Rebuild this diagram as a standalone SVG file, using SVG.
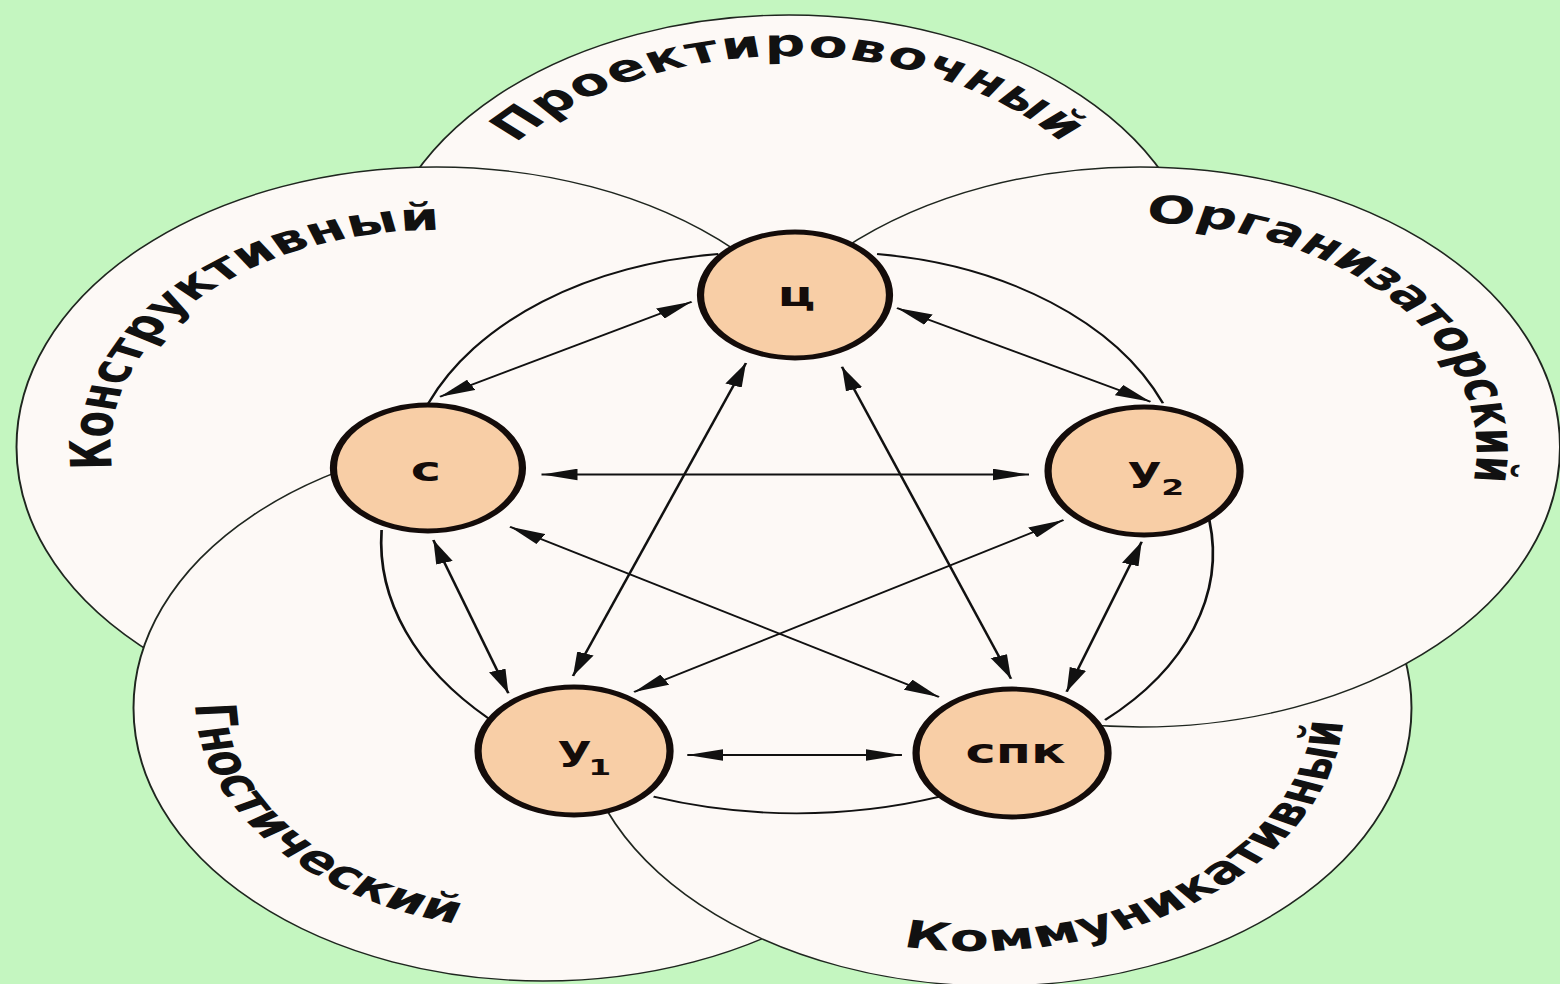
<svg xmlns="http://www.w3.org/2000/svg" width="1560" height="984" viewBox="0 0 1560 984">
<style>
.petal{fill:#fdf9f6;stroke:#1f261f;stroke-width:1.3}
.ring{fill:none;stroke:#111;stroke-width:1.8}
.inner{fill:#fdf9f6;stroke:none}
.arrow{fill:none;stroke:#111;stroke-width:1.8;marker-start:url(#ah);marker-end:url(#ah)}
.node circle{fill:#f8cea6;stroke:#140c0a;stroke-width:4.8}
.node text{font-family:"DejaVu Sans","Liberation Sans",sans-serif;font-weight:bold;font-size:34px;fill:#140c0a}
.lbl{font-family:"DejaVu Sans","Liberation Sans",sans-serif;font-weight:bold;font-size:38px;fill:#111}
</style>
<defs>
<marker id="ah" viewBox="-24 -6 24 12" refX="0" refY="0" markerWidth="24" markerHeight="12" markerUnits="userSpaceOnUse" orient="auto-start-reverse">
<path d="M0,0 L-24,-5.8 L-24,5.8 Z" fill="#111"/>
</marker>
<path id="tp-p" d="M 292,290 A 234,234 0 0 1 760,290" fill="none"/>
<path id="tp-k" d="M 144.7,607.3 A 217,217 0 0 1 437.3,286.7" fill="none"/>
<path id="tp-o" d="M 613.1,272.7 A 228,228 0 0 1 906.9,621.3" fill="none"/>
<path id="tp-g" d="M 217.7,518.8 A 231,231 0 0 0 504.3,881.2" fill="none"/>
<path id="tp-km" d="M 454.7,854.6 A 246,246 0 0 0 845.3,555.4" fill="none"/>
</defs>
<rect x="0" y="0" width="1560" height="984" fill="#c4f6c0"/>
<g transform="scale(1.5,1)">
<g id="petal-proektirovochny"><circle class="petal" cx="526" cy="290" r="275"/></g>
<g id="petal-konstruktivny"><circle class="petal" cx="291" cy="447" r="280"/></g>
<g id="petal-gnostichesky"><circle class="petal" cx="362" cy="708" r="273"/></g>
<g id="petal-kommunikativny"><circle class="petal" cx="663" cy="708" r="278"/></g>
<g id="petal-organizatorsky"><circle class="petal" cx="760" cy="447" r="280"/></g>
<path class="inner" d="M 530,295 L 584.7,254 A 236,236 0 0 1 775.3,403.3 L 762.7,471 L 806.2,520 A 230,230 0 0 1 736.7,720 L 674.7,753 L 626.5,796.7 A 282,282 0 0 1 435.7,796.7 L 382.7,751 L 325.6,718.3 A 253.5,253.5 0 0 1 254.4,530 L 285.3,468 L 285.6,403.3 A 236,236 0 0 1 478.9,254 Z"/>
<g id="connectors">
<path class="ring" d="M 584.7,254 A 236,236 0 0 1 775.3,403.3"/>
<path class="ring" d="M 806.2,520 A 230,230 0 0 1 736.7,720"/>
<path class="ring" d="M 626.5,796.7 A 282,282 0 0 1 435.7,796.7"/>
<path class="ring" d="M 325.6,718.3 A 253.5,253.5 0 0 1 254.4,530"/>
<path class="ring" d="M 285.6,403.3 A 236,236 0 0 1 478.9,254"/>
<path class="arrow" d="M 293.3,396.7 L 461.1,301.7"/>
<path class="arrow" d="M 598,308 L 767,401.7"/>
<path class="arrow" d="M 361,474.5 L 686,474.5"/>
<path class="arrow" d="M 497.3,363 L 382,676"/>
<path class="arrow" d="M 561.3,366.7 L 674,678.7"/>
<path class="arrow" d="M 340,526.7 L 626,697"/>
<path class="arrow" d="M 709,520 L 422.7,692"/>
<path class="arrow" d="M 288.9,540 L 338.9,693.3"/>
<path class="arrow" d="M 761.1,541.7 L 711.1,691.7"/>
<path class="arrow" d="M 458.2,755 L 601.3,755"/>
</g>
<g id="node-ts" class="node"><circle cx="530" cy="295" r="63"/><text x="531" y="306" text-anchor="middle">ц</text></g>
<g id="node-s" class="node"><circle cx="285.3" cy="468" r="63"/><text x="284" y="481" text-anchor="middle">с</text></g>
<g id="node-u2" class="node"><circle cx="762.7" cy="471" r="64"/><text x="752" y="481">у<tspan font-size="22" dy="14">2</tspan></text></g>
<g id="node-u1" class="node"><circle cx="382.7" cy="751" r="64"/><text x="372" y="760">у<tspan font-size="22" dx="-2" dy="15">1</tspan></text></g>
<g id="node-spk" class="node"><circle cx="674.7" cy="753" r="64"/><text x="677" y="763" text-anchor="middle">спк</text></g>
<g id="labels">
<text id="label-proektirovochny" class="lbl" letter-spacing="1"><textPath href="#tp-p" startOffset="50%" text-anchor="middle">Проектировочный</textPath></text>
<text id="label-konstruktivny" class="lbl" letter-spacing="0"><textPath href="#tp-k" startOffset="50%" text-anchor="middle">Конструктивный</textPath></text>
<text id="label-organizatorsky" class="lbl" letter-spacing="0"><textPath href="#tp-o" startOffset="50%" text-anchor="middle">Организаторский</textPath></text>
<text id="label-gnostichesky" class="lbl"><textPath href="#tp-g" startOffset="50%" text-anchor="middle">Гностический</textPath></text>
<text id="label-kommunikativny" class="lbl" letter-spacing="0.7"><textPath href="#tp-km" startOffset="50%" text-anchor="middle">Коммуникативный</textPath></text>
</g>
</g>
</svg>
